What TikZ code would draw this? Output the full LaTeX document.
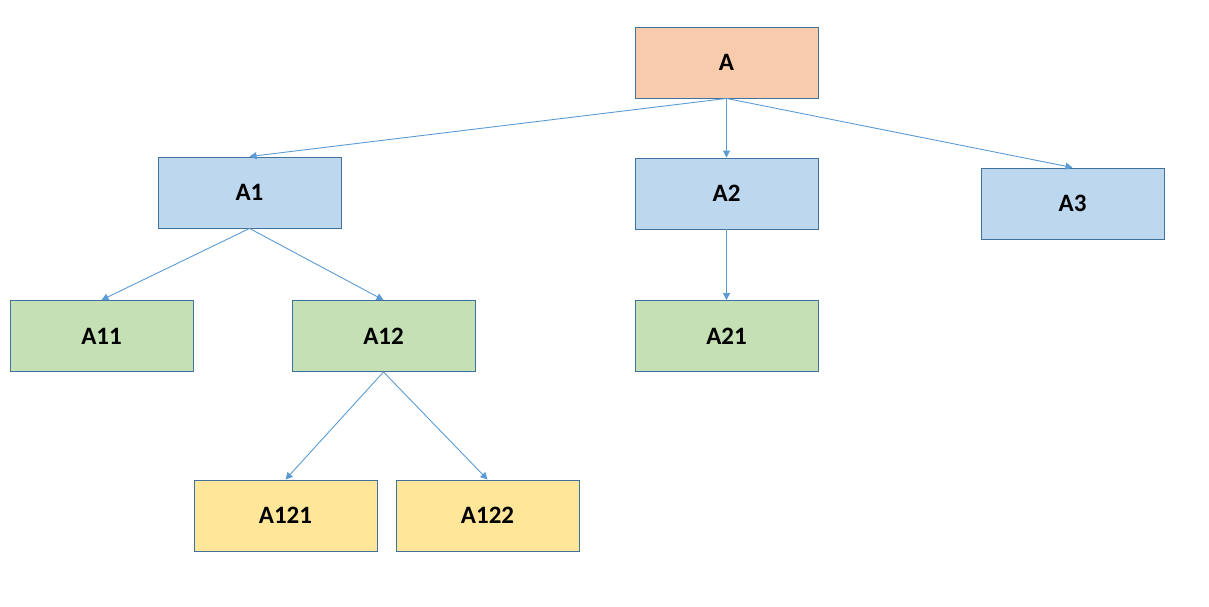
\documentclass[tikz,border=0pt]{standalone}
\usepackage{fontspec}
\setmainfont{Carlito}
\usetikzlibrary{arrows.meta}
\definecolor{bordc}{HTML}{41719C}
\definecolor{arrc}{HTML}{5B9BD5}
\definecolor{peach}{HTML}{F8CBAD}
\definecolor{lblue}{HTML}{BDD7EE}
\definecolor{lgreen}{HTML}{C5E0B4}
\definecolor{lyellow}{HTML}{FFE699}
\begin{document}
\begin{tikzpicture}[x=1pt,y=-1pt,
  box/.style={draw=bordc,line width=0.9pt,minimum width=183pt,minimum height=71pt,inner sep=0pt,
    font=\fontsize{25}{30}\selectfont\bfseries,text=black},
  conn/.style={draw=arrc,line width=0.9pt,-{Triangle[length=7pt,width=7pt]}}]
\useasboundingbox (0,0) rectangle (1209,607);
\node[box,fill=peach] (A) at (726.5,62.5) {A};
\node[box,fill=lblue] (A1) at (249.5,192.5) {A1};
\node[box,fill=lblue] (A2) at (726.5,193.5) {A2};
\node[box,fill=lblue] (A3) at (1072.5,203.5) {A3};
\node[box,fill=lgreen] (A11) at (101.5,336) {A11};
\node[box,fill=lgreen] (A12) at (383.5,336) {A12};
\node[box,fill=lgreen] (A21) at (726.5,336) {A21};
\node[box,fill=lyellow] (A121) at (285.5,515.5) {A121};
\node[box,fill=lyellow] (A122) at (487.5,515.5) {A122};
\draw[conn] (A.south) -- (A1.north);
\draw[conn] (A.south) -- (A2.north);
\draw[conn] (A.south) -- (A3.north);
\draw[conn] (A1.south) -- (A11.north);
\draw[conn] (A1.south) -- (A12.north);
\draw[conn] (A2.south) -- (A21.north);
\draw[conn] (A12.south) -- (A121.north);
\draw[conn] (A12.south) -- (A122.north);
\end{tikzpicture}
\end{document}
